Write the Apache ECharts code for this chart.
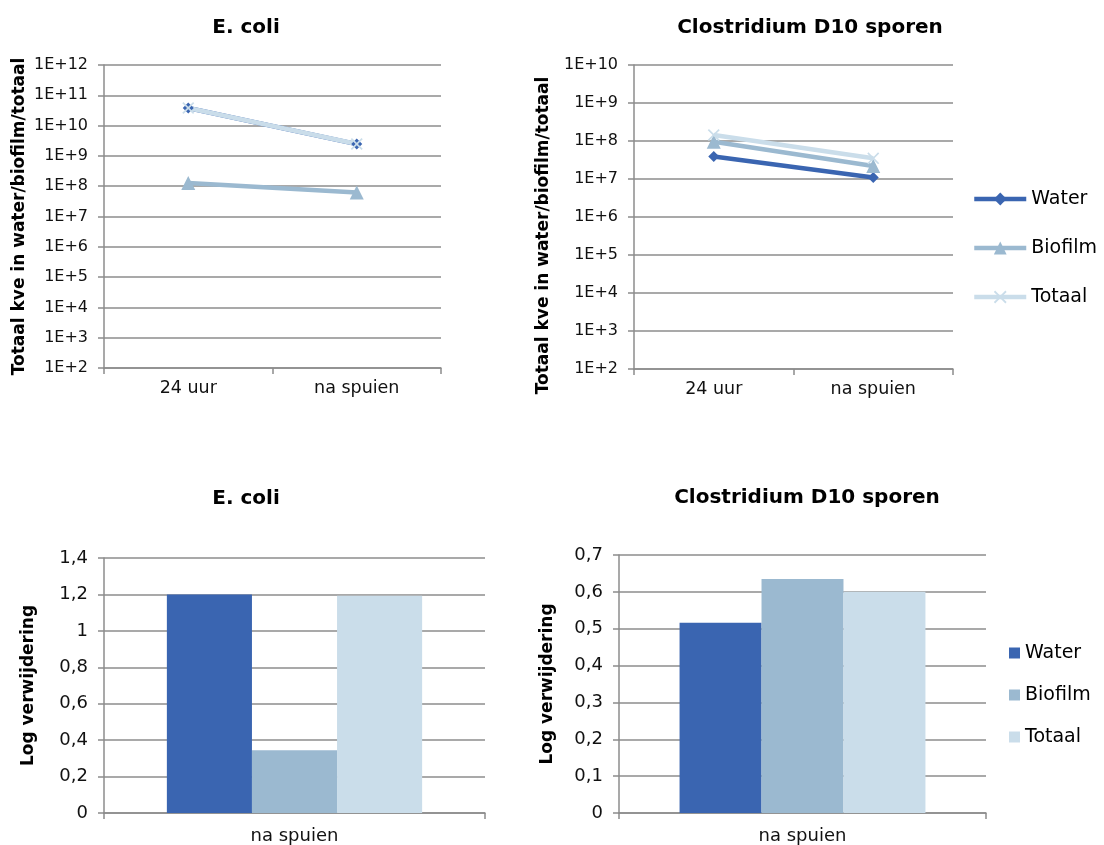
<!DOCTYPE html>
<html>
<head>
<meta charset="utf-8">
<script src="https://cdn.jsdelivr.net/npm/echarts@6/dist/echarts.min.js"></script>
<style>
  html, body { margin: 0; padding: 0; background: #fff; }
  #lines { position: absolute; left: 0; top: 0; width: 1104px; height: 430px; }
  #bars { position: absolute; left: 0; top: 430px; width: 1104px; height: 415px; }
</style>
</head>
<body>
<div id="lines"></div>
<div id="bars"></div>
<script>
// data
const seriesNames = ['Water', 'Biofilm', 'Totaal'];
const timeCategories = ['24 uur', 'na spuien'];
const ecoliWater = [3.8e10, 2.45e9];
const ecoliBiofilm = [1.28e8, 6.2e7];
const ecoliTotaal = [3.81e10, 2.46e9];
const closWater = [3.9e7, 1.1e7];
const closBiofilm = [9.6e7, 2.2e7];
const closTotaal = [1.44e8, 3.5e7];

const removalCategories = ['na spuien'];
const ecoliRemoval = [1.2, 0.344, 1.193];   // Water, Biofilm, Totaal
const closRemoval = [0.516, 0.635, 0.6];

const colors = ['#3A65B1', '#9BB9D0', '#CADDEA'];
const FONT = 'DejaVu Sans';
const GRAY = '#8c8c8c';
const xSymbol = 'path://M0,1 L1,0 L5,4 L9,0 L10,1 L6,5 L10,9 L9,10 L5,6 L1,10 L0,9 L4,5 Z';

function catAxis(gridIndex, data, fontSize, margin) {
  return {
    type: 'category', gridIndex: gridIndex, data: data, boundaryGap: true,
    axisLine: { lineStyle: { color: GRAY, width: 1.5 } },
    axisTick: { show: true, length: 6, lineStyle: { color: GRAY, width: 1.5 } },
    axisLabel: { color: '#111', fontFamily: FONT, fontSize: fontSize, margin: margin },
    splitLine: { show: false }
  };
}

function gridLines() {
  return { show: true, lineStyle: { color: GRAY, width: 1.5 } };
}

function logAxis(gridIndex, max, nameGap, namePad) {
  return {
    type: 'log', gridIndex: gridIndex, logBase: 10, min: 100, max: max, interval: 1,
    name: 'Totaal kve in water/biofilm/totaal', nameLocation: 'middle', nameGap: nameGap,
    nameTextStyle: { fontFamily: FONT, fontWeight: 'bold', fontSize: 17, color: '#000', padding: namePad },
    axisLine: { show: true, lineStyle: { color: GRAY, width: 1.5 } },
    axisTick: { show: true, length: 6, lineStyle: { color: GRAY, width: 1.5 } },
    axisLabel: {
      color: '#111', fontFamily: FONT, fontSize: 16, margin: 16,
      formatter: v => '1E+' + Math.round(Math.log10(v))
    },
    splitLine: gridLines()
  };
}

function valAxis(gridIndex, max, nameGap) {
  return {
    type: 'value', gridIndex: gridIndex, min: 0, max: max, interval: max / 7,
    name: 'Log verwijdering', nameLocation: 'middle', nameGap: nameGap,
    nameTextStyle: { fontFamily: FONT, fontWeight: 'bold', fontSize: 17, color: '#000' },
    axisLine: { show: true, lineStyle: { color: GRAY, width: 1.5 } },
    axisTick: { show: true, length: 6, lineStyle: { color: GRAY, width: 1.5 } },
    axisLabel: {
      color: '#111', fontFamily: FONT, fontSize: 18, margin: 16,
      formatter: v => String(+v.toFixed(2)).replace('.', ',')
    },
    splitLine: gridLines()
  };
}

function lineSeries(name, data, idx, symbol, size) {
  return {
    type: 'line', name: name, data: data, xAxisIndex: idx, yAxisIndex: idx,
    symbol: symbol, symbolSize: size,
    lineStyle: { width: 4.5, color: colors[seriesNames.indexOf(name)] },
    itemStyle: { color: colors[seriesNames.indexOf(name)] },
    animation: false
  };
}

function title(text, x, top) {
  return {
    text: text, left: x, top: top, textAlign: 'center', padding: 0,
    textStyle: { fontFamily: FONT, fontWeight: 'bold', fontSize: 20, color: '#000' }
  };
}

// top row: line charts on log axes
const lineChart = echarts.init(document.getElementById('lines'));
lineChart.setOption({
  animation: false,
  title: [title('E. coli', 246, 18), title('Clostridium D10 sporen', 810, 18)],
  grid: [
    { left: 104, top: 65, width: 337, height: 303 },
    { left: 634, top: 65, width: 319, height: 304 }
  ],
  xAxis: [catAxis(0, timeCategories, 17.5, 11), catAxis(1, timeCategories, 17.5, 11)],
  yAxis: [logAxis(0, 1e12, 76, 0), logAxis(1, 1e10, 82, [0, 37, 0, 0])],
  legend: {
    orient: 'vertical', left: 972, top: 188, padding: 0,
    itemWidth: 52, itemHeight: 16, itemGap: 27,
    lineStyle: { width: 4.5 },
    textStyle: { fontFamily: FONT, fontSize: 19, color: '#000', lineHeight: 22 },
    data: seriesNames
  },
  series: [
    lineSeries('Water', ecoliWater, 0, 'diamond', 11),
    lineSeries('Biofilm', ecoliBiofilm, 0, 'triangle', 14),
    lineSeries('Totaal', ecoliTotaal, 0, xSymbol, 12),
    lineSeries('Water', closWater, 1, 'diamond', 11),
    lineSeries('Biofilm', closBiofilm, 1, 'triangle', 14),
    lineSeries('Totaal', closTotaal, 1, xSymbol, 12)
  ]
});

// bottom row: log removal bars
function barSeries(values, idx) {
  return seriesNames.map((name, i) => ({
    type: 'bar', name: name, data: [values[i]], xAxisIndex: idx, yAxisIndex: idx,
    barGap: '0%', barCategoryGap: '33%',
    itemStyle: { color: colors[i] }
  }));
}

const barChart = echarts.init(document.getElementById('bars'));
barChart.setOption({
  animation: false,
  title: [title('E. coli', 246, 59), title('Clostridium D10 sporen', 807, 58)],
  grid: [
    { left: 104, top: 128, width: 381, height: 256 },
    { left: 619, top: 125, width: 367, height: 259 }
  ],
  xAxis: [catAxis(0, removalCategories, 18, 14), catAxis(1, removalCategories, 18, 14)],
  yAxis: [valAxis(0, 1.4, 67), valAxis(1, 0.7, 63)],
  legend: {
    orient: 'vertical', left: 1009, top: 212, padding: 0,
    itemWidth: 11, itemHeight: 11, itemGap: 20,
    icon: 'rect',
    textStyle: { fontFamily: FONT, fontSize: 19, color: '#000', lineHeight: 22 },
    data: seriesNames
  },
  series: barSeries(ecoliRemoval, 0).concat(barSeries(closRemoval, 1))
});
</script>
</body>
</html>
